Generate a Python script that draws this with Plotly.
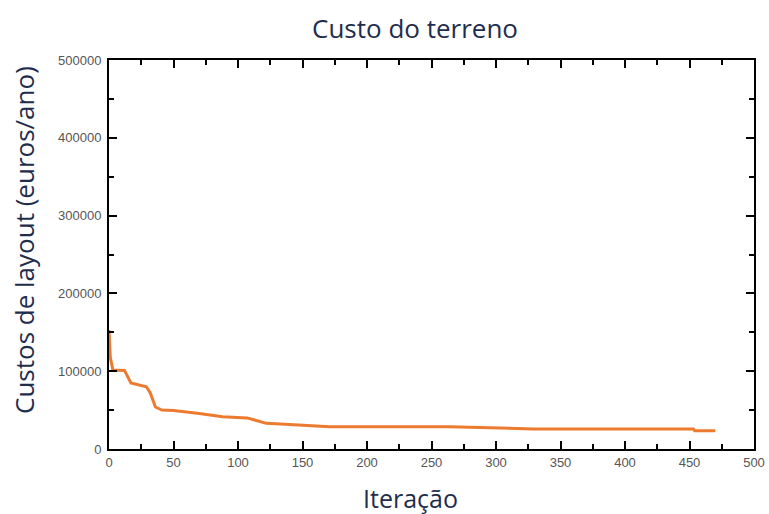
import plotly.graph_objects as go

iteracao = [0, 0.5, 1, 3, 12, 17, 29, 32, 36, 41, 50, 70, 88, 107, 115, 122, 140, 171, 264, 300, 329, 453, 454, 470]
custo = [153000, 125000, 118000, 101500, 101000, 85000, 80000, 72000, 54000, 50000, 49500, 45500, 41500, 40000, 36000, 33000, 31500, 28700, 28700, 27500, 25700, 25700, 23500, 23500]

x_ticks = [0, 50, 100, 150, 200, 250, 300, 350, 400, 450, 500]
y_ticks = [0, 100000, 200000, 300000, 400000, 500000]

title_text = "Custo do terreno"
x_title = "Iteração"
y_title = "Custos de layout (euros/ano)"

fig = go.Figure()
fig.add_trace(go.Scatter(
    x=iteracao, y=custo, mode="lines",
    line=dict(color="#EC7A2F", width=3),
    hoverinfo="skip", showlegend=False,
))

axis_common = dict(
    showgrid=False, zeroline=False,
    showline=True, linecolor="black", linewidth=2,
    mirror="ticks", ticks="inside", ticklen=8, tickwidth=2, tickcolor="black",
    tickfont=dict(family="Liberation Sans, Arial", size=13, color="#555555"),
    automargin=False,
)

fig.update_layout(
    width=769, height=514,
    margin=dict(l=109, r=15, t=60, b=65),
    paper_bgcolor="white", plot_bgcolor="white",
    xaxis=dict(
        range=[0, 500], tickvals=x_ticks,
        minor=dict(ticks="inside", ticklen=5, tickwidth=2, tickcolor="black", dtick=25, tick0=0, showgrid=False),
        **axis_common,
    ),
    yaxis=dict(
        range=[0, 500000], tickvals=y_ticks, tickformat="d", ticklabelstandoff=3,
        minor=dict(ticks="inside", ticklen=5, tickwidth=2, tickcolor="black", dtick=50000, tick0=0, showgrid=False),
        **axis_common,
    ),
    annotations=[
        dict(text=title_text, xref="paper", yref="paper", x=0.475, y=1.082,
             xanchor="center", yanchor="middle", showarrow=False,
             font=dict(family="Open Sans", size=26, color="#1F2D4D")),
        dict(text=x_title, xref="paper", yref="paper", x=0.468, y=-0.125,
             xanchor="center", yanchor="middle", showarrow=False,
             font=dict(family="Open Sans", size=25, color="#1F2D4D")),
        dict(text=y_title, xref="paper", yref="paper", x=-0.132, y=0.537,
             xanchor="center", yanchor="middle", showarrow=False, textangle=-90,
             font=dict(family="Open Sans", size=26, color="#1F2D4D")),
    ],
)

fig.write_html("out.html", config={"displayModeBar": False},
               post_script="document.body.style.margin='0';document.body.style.overflow='hidden';")
